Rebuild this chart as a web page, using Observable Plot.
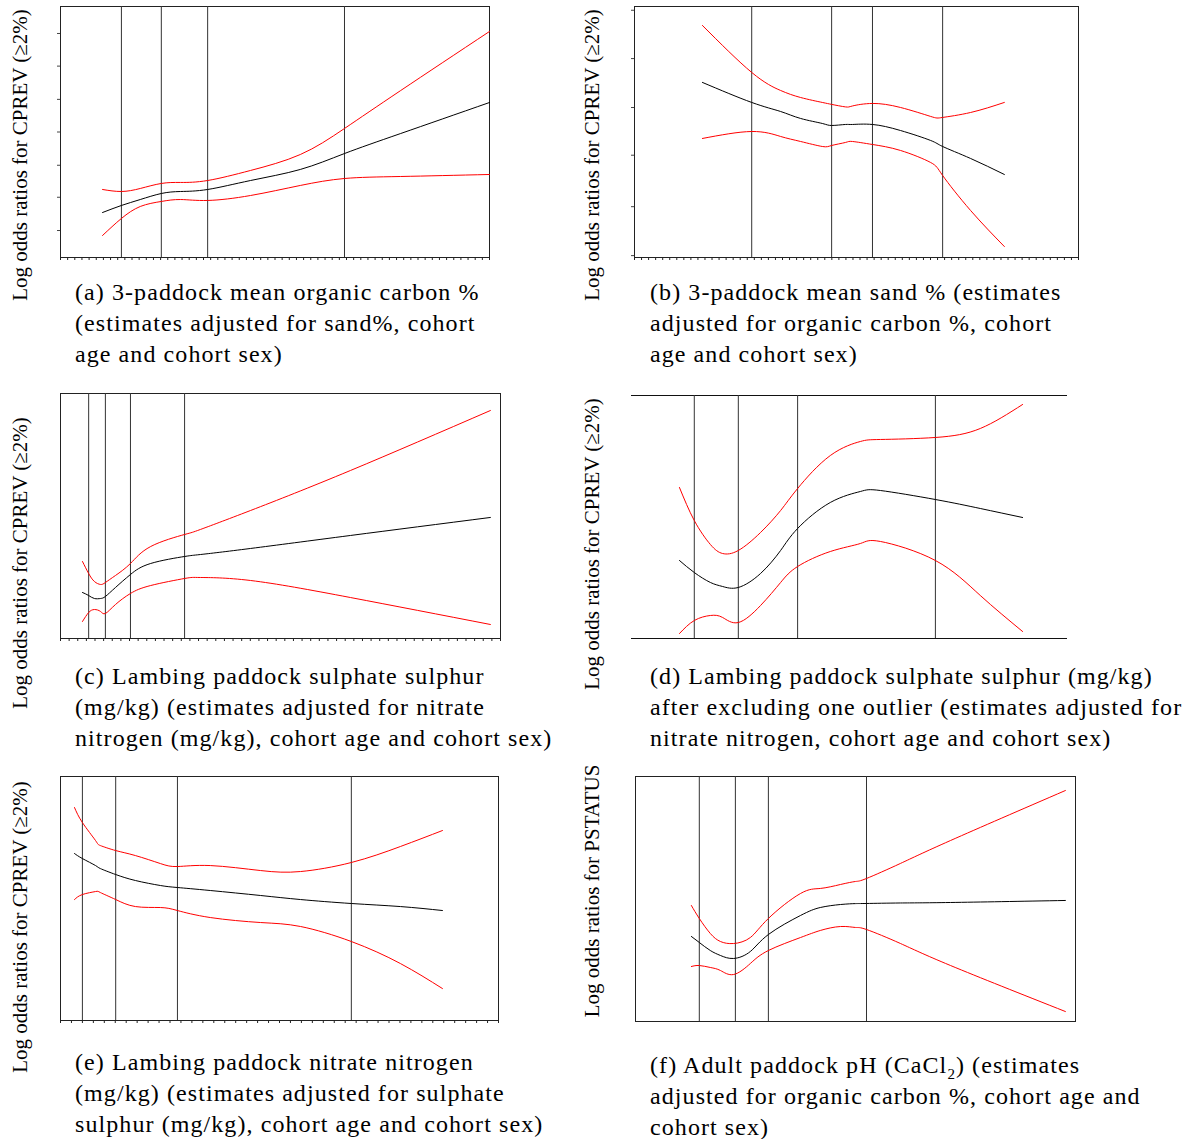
<!DOCTYPE html>
<html>
<head>
<meta charset="utf-8">
<script src="https://cdn.jsdelivr.net/npm/d3@7"></script>
<script src="https://cdn.jsdelivr.net/npm/@observablehq/plot@0.6"></script>
<style>
  html, body { margin: 0; padding: 0; background: #fff; }
  #page { position: relative; width: 1186px; height: 1139px; background: #fff; overflow: hidden;
          font-family: "Liberation Serif", "Times New Roman", serif; color: #000; }
  .panel { position: absolute; }
  .panel svg { display: block; overflow: visible; }
  .cap { position: absolute; font-size: 24px; line-height: 31px; letter-spacing: 1.08px; white-space: nowrap; }
  .ylab { position: absolute; font-size: 21px; white-space: nowrap; transform: translate(-50%, -50%) rotate(-90deg); }
  sub { font-size: 15px; line-height: 0; }
</style>
</head>
<body>
<div id="page"></div>
<script>
// ---------- data (x scaled 0-10 across each covariate range, y = log odds ratio) ----------
// (a) 3-paddock mean organic carbon %
const aX     = [0.98, 1.42, 1.86, 2.35, 2.80, 3.43, 4.43, 5.59, 6.62, 7.93, 10];
const aFit   = [-1.283, -1.171, -1.076, -0.980, -0.948, -0.916, -0.773, -0.597, -0.343, -0.024, 0.470];
const aUpper = [-0.916, -0.948, -0.900, -0.820, -0.804, -0.773, -0.613, -0.359, 0.056, 0.661, 1.602];
const aLower = [-1.649, -1.378, -1.187, -1.107, -1.076, -1.091, -1.012, -0.852, -0.741, -0.709, -0.677];
const aKnots = [1.42, 2.35, 3.43, 6.62];
const aTicksY = [-1.57, -1.04, -0.53, 0, 0.52, 1.05, 1.57];

// (b) 3-paddock mean sand %
const bX     = [1.53, 2.64, 3.29, 3.74, 4.23, 4.44, 4.75, 4.91, 5.36, 5.99, 6.67, 6.94, 7.57, 8.33];
const bFit   = [0.790, 0.471, 0.327, 0.216, 0.136, 0.104, 0.120, 0.120, 0.120, 0.024, -0.135, -0.231, -0.422, -0.677];
const bUpper = [1.698, 0.949, 0.662, 0.550, 0.471, 0.440, 0.400, 0.415, 0.455, 0.391, 0.248, 0.232, 0.311, 0.471];
const bLower = [-0.103, 0.008, -0.071, -0.151, -0.231, -0.215, -0.167, -0.151, -0.199, -0.294, -0.486, -0.693, -1.251, -1.825];
const bKnots = [2.64, 4.44, 5.36, 6.94];
const bTicksY = [-1.97, -1.19, -0.37, 0.39, 1.17, 1.94];

// (c) Lambing paddock sulphate sulphur
const cX     = [0.50, 0.64, 0.77, 0.91, 1.02, 1.25, 1.59, 2.05, 2.82, 3.18, 4.32, 6.59, 9.77];
const cFit   = [-1.249, -1.298, -1.347, -1.347, -1.314, -1.167, -0.955, -0.775, -0.661, -0.629, -0.530, -0.318, -0.024];
const cUpper = [-0.743, -0.939, -1.069, -1.118, -1.086, -0.971, -0.775, -0.498, -0.302, -0.220, 0.090, 0.743, 1.722];
const cLower = [-1.722, -1.576, -1.527, -1.559, -1.592, -1.445, -1.265, -1.135, -1.020, -1.004, -1.053, -1.331, -1.771];
const cKnots = [0.64, 1.02, 1.59, 2.82];

// (d) Lambing paddock sulphate sulphur, one outlier excluded
const dX     = [1.10, 1.44, 1.81, 2.09, 2.45, 2.96, 3.42, 3.81, 4.56, 5.25, 5.71, 6.97, 8.00, 8.97];
const dFit   = [-0.716, -0.914, -1.078, -1.144, -1.160, -0.930, -0.551, -0.189, 0.239, 0.420, 0.436, 0.288, 0.140, -0.008];
const dUpper = [0.486, -0.058, -0.453, -0.601, -0.551, -0.255, 0.107, 0.469, 1.012, 1.243, 1.276, 1.309, 1.457, 1.852];
const dLower = [-1.918, -1.704, -1.621, -1.654, -1.737, -1.457, -1.078, -0.815, -0.568, -0.436, -0.403, -0.716, -1.292, -1.885];
const dKnots = [1.44, 2.45, 3.81, 6.97];

// (e) Lambing paddock nitrate nitrogen
const eX     = [0.32, 0.50, 0.80, 0.91, 1.26, 1.71, 2.28, 2.67, 3.42, 4.57, 5.48, 6.64, 7.76, 8.72];
const eFit   = [0.737, 0.655, 0.540, 0.491, 0.393, 0.295, 0.213, 0.180, 0.131, 0.049, -0.017, -0.082, -0.132, -0.197];
const eUpper = [1.491, 1.245, 0.950, 0.868, 0.786, 0.704, 0.573, 0.524, 0.540, 0.458, 0.442, 0.590, 0.852, 1.114];
const eLower = [-0.017, 0.065, 0.114, 0.098, -0.017, -0.132, -0.148, -0.197, -0.312, -0.394, -0.459, -0.705, -1.066, -1.476];
const eKnots = [0.50, 1.26, 2.67, 6.64];

// (f) Adult paddock pH (CaCl2)
const fX     = [1.27, 1.45, 1.70, 1.93, 2.23, 2.61, 3.02, 3.75, 4.20, 4.66, 5.00, 5.25, 6.02, 7.16, 9.77];
const fFit   = [-0.612, -0.710, -0.841, -0.922, -0.971, -0.857, -0.580, -0.269, -0.139, -0.090, -0.075, -0.073, -0.065, -0.057, -0.024];
const fUpper = [-0.106, -0.318, -0.563, -0.694, -0.727, -0.629, -0.318, 0.090, 0.172, 0.237, 0.286, 0.335, 0.580, 0.955, 1.771];
const fLower = [-1.102, -1.086, -1.118, -1.167, -1.233, -1.053, -0.841, -0.629, -0.514, -0.449, -0.465, -0.498, -0.726, -1.086, -1.837];
const fKnots = [1.45, 2.27, 3.02, 5.25];

// minor tick positions along x (0-10 range)
const ticksA = d3.range(0, 10.0001, 10 / 60);
const ticksB = d3.range(0, 10.0001, 10 / 63);
const ticksC = d3.range(0, 10.0001, 10 / 51);
const ticksE = d3.range(0, 10.0001, 10 / 40);

const yLabelCPREV = "Log odds ratios for CPREV (\u22652%)";
const yLabelPSTATUS = "Log odds ratios for PSTATUS";

const captions = {
  a: ["(a) 3-paddock mean organic carbon %", "(estimates adjusted for sand%, cohort", "age and cohort sex)"],
  b: ["(b) 3-paddock mean sand % (estimates", "adjusted for organic carbon %, cohort", "age and cohort sex)"],
  c: ["(c) Lambing paddock sulphate sulphur", "(mg/kg) (estimates adjusted for nitrate", "nitrogen (mg/kg), cohort age and cohort sex)"],
  d: ["(d) Lambing paddock sulphate sulphur (mg/kg)", "after excluding one outlier (estimates adjusted for", "nitrate nitrogen, cohort age and cohort sex)"],
  e: ["(e) Lambing paddock nitrate nitrogen", "(mg/kg) (estimates adjusted for sulphate", "sulphur (mg/kg), cohort age and cohort sex)"],
  f: ["(f) Adult paddock pH (CaCl<sub>2</sub>) (estimates", "adjusted for organic carbon %, cohort age and", "cohort sex)"]
};

// ---------- layout ----------
const panels = [
  {id: "a", x: aX, fit: aFit, hi: aUpper, lo: aLower, knots: aKnots, xt: ticksA, yt: aTicksY, box: true,
   L: 60, T: 6, W: 429, H: 251, ylab: yLabelCPREV, ylx: 20, yly: 155, cx: 75, cy: 277},
  {id: "b", x: bX, fit: bFit, hi: bUpper, lo: bLower, knots: bKnots, xt: ticksB, yt: bTicksY, box: true,
   L: 634, T: 6, W: 444, H: 251, ylab: yLabelCPREV, ylx: 592, yly: 155, cx: 650, cy: 277},
  {id: "c", x: cX, fit: cFit, hi: cUpper, lo: cLower, knots: cKnots, xt: ticksC, yt: null, box: true,
   L: 60, T: 393, W: 440, H: 245, ylab: yLabelCPREV, ylx: 20, yly: 563, cx: 75, cy: 661},
  {id: "d", x: dX, fit: dFit, hi: dUpper, lo: dLower, knots: dKnots, xt: null, yt: null, box: false,
   L: 631, T: 395, W: 436, H: 243, ylab: yLabelCPREV, ylx: 592, yly: 544, cx: 650, cy: 661},
  {id: "e", x: eX, fit: eFit, hi: eUpper, lo: eLower, knots: eKnots, xt: ticksE, yt: null, box: true,
   L: 60, T: 776, W: 438, H: 244, ylab: yLabelCPREV, ylx: 20, yly: 927, cx: 75, cy: 1047},
  {id: "f", x: fX, fit: fFit, hi: fUpper, lo: fLower, knots: fKnots, xt: null, yt: null, box: true,
   L: 635, T: 776, W: 440, H: 245, ylab: yLabelPSTATUS, ylx: 592, yly: 891, cx: 650, cy: 1050}
];

const page = document.getElementById("page");
const mL = 6, mR = 2, mT = 2, mB = 6;

for (const p of panels) {
  const rows = p.x.map((x, i) => ({x, fit: p.fit[i], hi: p.hi[i], lo: p.lo[i]}));
  const marks = [];
  if (p.box) marks.push(Plot.frame({stroke: "#222", strokeWidth: 1}));
  else marks.push(Plot.ruleY([-2, 2], {stroke: "#111", strokeWidth: 1}));
  marks.push(Plot.ruleX(p.knots, {stroke: "#333", strokeWidth: 1}));
  if (p.xt) marks.push(Plot.axisX(p.xt, {tickSize: 3, tickFormat: () => "", label: null, stroke: "#222"}));
  if (p.yt) marks.push(Plot.axisY(p.yt, {tickSize: 3, tickFormat: () => "", label: null, stroke: "#444"}));
  marks.push(Plot.line(rows, {x: "x", y: "hi", stroke: "#ff0000", strokeWidth: 1, curve: "natural"}));
  marks.push(Plot.line(rows, {x: "x", y: "lo", stroke: "#ff0000", strokeWidth: 1, curve: "natural"}));
  marks.push(Plot.line(rows, {x: "x", y: "fit", stroke: "#000", strokeWidth: 1, curve: "natural"}));

  const svg = Plot.plot({
    width: p.W + mL + mR,
    height: p.H + mT + mB,
    marginLeft: mL, marginRight: mR, marginTop: mT, marginBottom: mB,
    x: p.xt ? {domain: [0, 10]} : {domain: [0, 10], axis: null},
    y: p.yt ? {domain: [-2, 2]} : {domain: [-2, 2], axis: null},
    style: {background: "transparent"},
    marks
  });
  const holder = document.createElement("div");
  holder.className = "panel";
  holder.style.left = (p.L - mL) + "px";
  holder.style.top = (p.T - mT) + "px";
  holder.appendChild(svg);
  page.appendChild(holder);

  const yl = document.createElement("div");
  yl.className = "ylab";
  yl.style.left = p.ylx + "px";
  yl.style.top = p.yly + "px";
  yl.textContent = p.ylab;
  page.appendChild(yl);

  const cap = document.createElement("div");
  cap.className = "cap";
  cap.style.left = p.cx + "px";
  cap.style.top = p.cy + "px";
  cap.innerHTML = captions[p.id].join("<br>");
  page.appendChild(cap);
}
</script>
</body>
</html>
